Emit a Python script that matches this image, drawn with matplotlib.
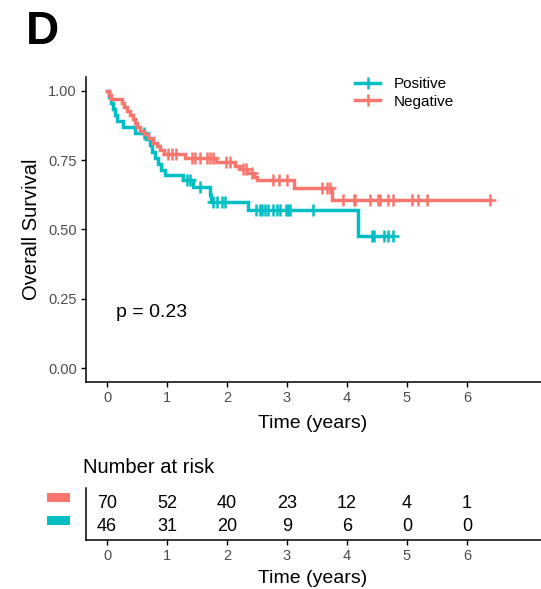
import numpy as np
import matplotlib as mpl
mpl.use("Agg")
import matplotlib.pyplot as plt
from matplotlib.patches import Rectangle

plt.rcParams["font.family"] = ["Liberation Sans", "DejaVu Sans"]

# Kaplan-Meier steps: (time of drop, survival after drop)
neg_times = [0.03, 0.06, 0.25, 0.28, 0.33, 0.38, 0.43, 0.47, 0.50, 0.55, 0.62,
             0.69, 0.76, 0.84, 0.89, 0.95, 1.30, 1.82, 2.13, 2.22, 2.33, 2.45,
             2.50, 3.12, 3.75]
neg_surv = [0.986, 0.971, 0.957, 0.943, 0.929, 0.914, 0.900, 0.886, 0.871,
            0.857, 0.843, 0.829, 0.814, 0.800, 0.786, 0.771, 0.757, 0.745,
            0.731, 0.717, 0.703, 0.690, 0.677, 0.649, 0.606]
neg_censor = [1.02, 1.08, 1.15, 1.41, 1.47, 1.55, 1.66, 1.72, 1.77, 1.99, 2.05,
              2.26, 2.31, 2.42, 2.77, 2.86, 3.00, 3.58, 3.66, 3.72, 3.94, 4.11,
              4.13, 4.38, 4.52, 4.55, 4.69, 4.77, 5.08, 5.19, 5.33, 6.38]

pos_times = [0.03, 0.06, 0.10, 0.13, 0.16, 0.27, 0.47, 0.65, 0.72, 0.75, 0.80,
             0.85, 0.90, 0.96, 1.27, 1.44, 1.71, 1.74, 2.35, 4.18]
pos_surv = [0.978, 0.957, 0.935, 0.913, 0.891, 0.870, 0.848, 0.826, 0.804,
            0.781, 0.759, 0.736, 0.714, 0.698, 0.677, 0.655, 0.625, 0.600,
            0.570, 0.476]
pos_censor = [0.61, 1.33, 1.38, 1.55, 1.77, 1.83, 1.91, 1.97, 2.49, 2.55, 2.58,
              2.63, 2.69, 2.77, 2.83, 2.88, 2.99, 3.02, 3.05, 3.44, 4.41, 4.45,
              4.61, 4.69, 4.76]

risk_times = [0, 1, 2, 3, 4, 5, 6]
neg_risk = [70, 52, 40, 23, 12, 4, 1]
pos_risk = [46, 31, 20, 9, 6, 0, 0]

groups = ["Positive", "Negative"]
colors = {"Positive": "#00BFC4", "Negative": "#F8766D"}
curves = {
    "Positive": (pos_times, pos_surv, pos_censor),
    "Negative": (neg_times, neg_surv, neg_censor),
}
p_label = "p = 0.23"

W, H = 541, 589
fig = plt.figure(figsize=(W / 100, H / 100), dpi=100)


def px_rect(x0, y0, x1, y1):
    return [x0 / W, 1 - y1 / H, (x1 - x0) / W, (y1 - y0) / H]


x_left = 86
xlim = (-0.35, (W - 107) / 60)
grey = "#4D4D4D"

ax = fig.add_axes(px_rect(x_left, 77.15, W, 381.85))
for g in groups:
    t, s, c = curves[g]
    tt = np.r_[0.0, t, max(c[-1], t[-1])]
    ss = np.r_[1.0, s, s[-1]]
    ax.step(tt, ss, where="post", color=colors[g], lw=2.5, solid_joinstyle="miter")
    idx = np.searchsorted(t, c, side="right")
    cy = np.r_[1.0, s][idx]
    ax.plot(c, cy, ls="none", marker="+", ms=8.6, mew=1.8, color=colors[g])
    ax.plot([], [], color=colors[g], lw=2.5, marker="+", ms=8.6, mew=1.8, label=g)

ax.set_xlim(*xlim)
ax.set_ylim(-0.05, 1.05)
ax.set_xticks(range(7))
ax.set_yticks([0, 0.25, 0.5, 0.75, 1.0])
ax.set_yticklabels(["0.00", "0.25", "0.50", "0.75", "1.00"])
for a in ("top", "right"):
    ax.spines[a].set_visible(False)
for a in ("left", "bottom"):
    ax.spines[a].set_linewidth(1.1)
ax.tick_params(length=3.5, width=1.0, labelsize=10.5, labelcolor=grey, pad=3)
ax.set_xlabel("Time (years)", fontsize=14)
ax.xaxis.set_label_coords(0.497, -0.108)
ax.set_ylabel("Overall Survival", fontsize=14.5)
ax.yaxis.set_label_coords(-0.1, 0.5)
ax.text(0.15, 0.199, p_label, fontsize=14, ha="left", va="center")

leg = ax.legend(loc="upper left", bbox_to_anchor=(355 / W, 1 - 77 / H),
                bbox_transform=fig.transFigure, frameon=False, fontsize=11,
                handlelength=1.65, handletextpad=0.9, labelspacing=0.25,
                borderpad=0, borderaxespad=0)

# risk table
axr = fig.add_axes(px_rect(x_left, 488, W, 540))
axr.set_xlim(*xlim)
axr.set_ylim(-0.577, 1.686)
for t, nn, np_ in zip(risk_times, neg_risk, pos_risk):
    axr.text(t, 1, str(nn), ha="center", va="center", fontsize=13)
    axr.text(t, 0, str(np_), ha="center", va="center", fontsize=13)
axr.set_xticks(range(7))
axr.set_yticks([])
for a in ("top", "right"):
    axr.spines[a].set_visible(False)
for a in ("left", "bottom"):
    axr.spines[a].set_linewidth(1.1)
axr.tick_params(length=3.5, width=1.0, labelsize=10.5, labelcolor=grey, pad=3)
axr.set_xlabel("Time (years)", fontsize=14)
axr.xaxis.set_label_coords(0.497, -0.58)
axr.text(-0.007, 1.29, "Number at risk", transform=axr.transAxes,
         fontsize=14.5, ha="left", va="baseline")
for g, y0 in (("Negative", 0.731), ("Positive", 0.288)):
    axr.add_patch(Rectangle((-0.0857, y0), 0.0505, 0.173, transform=axr.transAxes,
                            color=colors[g], clip_on=False, lw=0))

fig.text(26 / W, 1 - 10 / H, "D", fontsize=33, weight="bold", ha="left", va="top")

fig.savefig("out.png", dpi=100)
